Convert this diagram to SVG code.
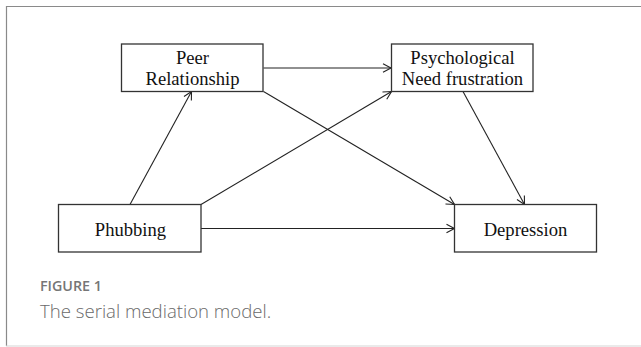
<svg xmlns="http://www.w3.org/2000/svg" width="641" height="347" viewBox="0 0 641 347">
  <style>
    .box { fill: #ffffff; stroke: #333333; stroke-width: 1.3; }
    .lbl { font-family: "Liberation Serif", "Times New Roman", serif; font-size: 18.6px; fill: #111111; text-anchor: middle; }
    .edge { stroke: #222222; stroke-width: 1.1; fill: none; marker-end: url(#arrow); }
    .figno { font-family: "Open Sans", "Liberation Sans", sans-serif; font-size: 14.3px; font-weight: 600; fill: #767676; }
    .cap { font-family: "Open Sans", "Liberation Sans", sans-serif; font-size: 18.6px; font-weight: 300; fill: #6a6a6a; }
  </style>
  <defs>
    <marker id="arrow" markerUnits="userSpaceOnUse" markerWidth="12" markerHeight="12" viewBox="0 0 12 12" refX="10" refY="6" orient="auto">
      <path d="M2,1.8 L10,6 L2,10.2" fill="none" stroke="#222222" stroke-width="1.1"/>
    </marker>
  </defs>
  <rect x="0" y="0" width="641" height="347" fill="#ffffff"/>
  <g id="frame">
    <line x1="6.5" y1="6.5" x2="641" y2="6.5" stroke="#8a8a8a" stroke-width="1.2"/>
    <line x1="6.5" y1="6" x2="6.5" y2="346" stroke="#8a8a8a" stroke-width="1.2"/>
    <line x1="6" y1="346" x2="641" y2="346" stroke="#d6d6d6" stroke-width="1.2"/>
  </g>
  <g id="connectors">
    <line class="edge" x1="263.5" y1="68" x2="391" y2="68"/>
    <line class="edge" x1="130" y1="204.5" x2="191.5" y2="91.5"/>
    <line class="edge" x1="201" y1="204.5" x2="391.5" y2="91.5"/>
    <line class="edge" x1="263.5" y1="91.5" x2="454.5" y2="204.5"/>
    <line class="edge" x1="463" y1="91.5" x2="524.5" y2="204.5"/>
    <line class="edge" x1="201" y1="228.5" x2="454.5" y2="228.5"/>
  </g>
  <g id="peer">
    <rect class="box" x="121.5" y="44" width="141.5" height="47.5"/>
    <text class="lbl" x="192.5" y="63.5">Peer</text>
    <text class="lbl" x="192.5" y="85">Relationship</text>
  </g>
  <g id="psych">
    <rect class="box" x="391.5" y="44" width="141.5" height="47.5"/>
    <text class="lbl" x="462.5" y="63.5">Psychological</text>
    <text class="lbl" x="462.5" y="85">Need frustration</text>
  </g>
  <g id="phubbing">
    <rect class="box" x="58.5" y="204.5" width="142.5" height="47.5"/>
    <text class="lbl" x="130.5" y="236">Phubbing</text>
  </g>
  <g id="depression">
    <rect class="box" x="454.5" y="204.5" width="142" height="47.5"/>
    <text class="lbl" x="525.5" y="236">Depression</text>
  </g>
  <g id="caption">
    <text class="figno" x="40" y="291">FIGURE 1</text>
    <text class="cap" x="40" y="318">The serial mediation model.</text>
  </g>
</svg>
